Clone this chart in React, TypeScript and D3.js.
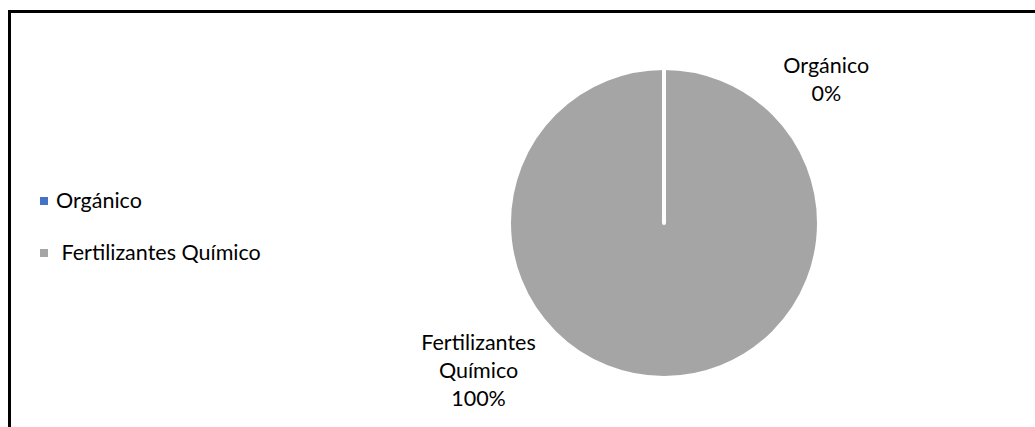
import React from "react";
import * as d3 from "d3";

const categories = ["Orgánico", "Fertilizantes Químico"];
const values = [0, 100];
const percentLabels = ["0%", "100%"];
const labelLines = [["Orgánico", "0%"], ["Fertilizantes", "Químico", "100%"]];
const colors = ["#4472C4", "#A5A5A5"];

const W = 1035;
const H = 427;
const FONT = "Lato, 'Open Sans', sans-serif";

export default function App() {
  const cx = 664;
  const cy = 223;
  const r = 155;
  const pie = d3.pie<number>().sort(null).value((d) => d).startAngle(0).endAngle(Math.PI * 2);
  const arcs = pie(values);
  const arc = d3.arc<d3.PieArcDatum<number>>().innerRadius(0).outerRadius(r);

  // label anchors (polar offset from pie centre: angle in radians from 12 o'clock, distance)
  const labelPolar = [
    { a: (48.7 * Math.PI) / 180, d: 216 },
    { a: (231.5 * Math.PI) / 180, d: 237 },
  ];
  const lineH = 28;
  const fs = 21.5;

  return (
    <svg
      width={W}
      height={H}
      style={{ position: "absolute", left: 0, top: 0, background: "#fff" }}
    >
      <rect x={9.5} y={11.5} width={W + 20} height={H + 20} fill="#fff" stroke="#000" strokeWidth={3} />
      <g transform={`translate(${cx},${cy})`}>
        {arcs
          .map((a, i) => ({ a, i }))
          .reverse()
          .map(({ a, i }) => (
            <path key={i} d={arc(a) || ""} fill={colors[i]} stroke="#fff" strokeWidth={4} strokeLinejoin="round" />
          ))}
        {labelLines.map((lines, i) => {
          const p = labelPolar[i];
          const x = Math.sin(p.a) * p.d;
          const y = -Math.cos(p.a) * p.d;
          const n = lines.length;
          return (
            <text key={i} textAnchor="middle" fontFamily={FONT} fontSize={fs} fill="#000">
              {lines.map((l, j) => (
                <tspan key={j} x={x} y={y + (j - (n - 1) / 2) * lineH + 7}>
                  {l}
                </tspan>
              ))}
            </text>
          );
        })}
      </g>
      <g>
        {categories.map((c, i) => (
          <g key={c} transform={`translate(40,${201 + i * 52})`}>
            <rect x={0} y={-4} width={8} height={8} fill={colors[i]} />
            <text x={16} y={7} fontFamily={FONT} fontSize={fs} fill="#000" xmlSpace="preserve">
              {i === 0 ? c : "\u00a0" + c}
            </text>
          </g>
        ))}
      </g>
    </svg>
  );
}
